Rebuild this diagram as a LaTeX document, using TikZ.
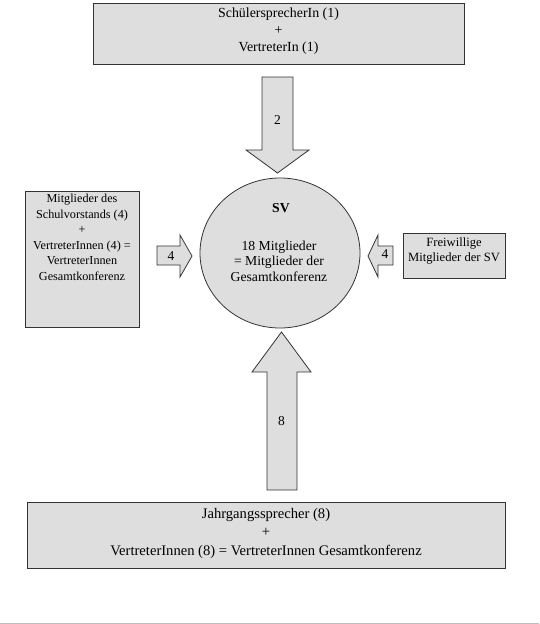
\documentclass[tikz,border=0pt]{standalone}
\usepackage{fontspec}
\setmainfont{Liberation Serif}
\begin{document}
\begin{tikzpicture}[x=1pt,y=-1pt,
  boxfill/.style={draw=black!80,line width=0.8pt,fill=black!13},
  txt/.style={align=center,inner sep=0pt,text=black},
  numtxt/.style={inner sep=0pt,font=\fontsize{13.5}{15}\selectfont}]
\useasboundingbox (0,0) rectangle (539,624);
% boxes
\draw[boxfill] (93,3) rectangle (464,64);
\node[txt,font=\fontsize{13.9}{17}\selectfont] (top) at (278.5,31) {SchülersprecherIn (1)\\+\\VertreterIn (1)};
\draw[boxfill] (25,191) rectangle (139,327);
\node[txt,font=\fontsize{12.2}{15.5}\selectfont,anchor=north] (left) at (82,194) {Mitglieder des\\Schulvorstands (4)\\+\\VertreterInnen (4) =\\VertreterInnen\\Gesamtkonferenz};
\draw[boxfill] (403,233) rectangle (505,278);
\node[txt,font=\fontsize{12.6}{15}\selectfont] (right) at (454,251) {Freiwillige\\Mitglieder der SV};
\draw[boxfill] (27,502) rectangle (505,568);
\node[txt,font=\fontsize{14.6}{18.5}\selectfont] (bottom) at (266,533) {Jahrgangssprecher (8)\\+\\VertreterInnen (8) = VertreterInnen Gesamtkonferenz};
% circle
\draw[boxfill] (280,253) ellipse (80 and 75);
\node[txt,font=\fontsize{13.7}{15}\selectfont\bfseries] (sv) at (281,208) {SV};
\node[txt,font=\fontsize{13.7}{15.5}\selectfont] (svtext) at (279,261) {18 Mitglieder\\= Mitglieder der\\Gesamtkonferenz};
% top arrow
\draw[boxfill,line join=miter] (262,77) -- (293,77) -- (293,150) -- (309,150) -- (277.5,173) -- (246,150) -- (262,150) -- cycle;
\node[numtxt] (n2) at (277.5,120) {2};
% bottom arrow
\draw[boxfill,line join=miter] (267,490) -- (297,490) -- (297,372) -- (311,372) -- (281.5,332) -- (252,372) -- (267,372) -- cycle;
\node[numtxt] (n8) at (281.5,421) {8};
% left arrow
\draw[boxfill,line join=miter] (157,246) -- (180,246) -- (180,235) -- (192,256) -- (180,277) -- (180,265) -- (157,265) -- cycle;
\node[numtxt] (n4l) at (171,256) {4};
% right arrow
\draw[boxfill,line join=miter] (393,246) -- (378,246) -- (378,235) -- (368,256) -- (378,277) -- (378,265) -- (393,265) -- cycle;
\node[numtxt] (n4r) at (385,254) {4};
% bottom page line
\draw[black!25,line width=1pt] (0,623) -- (539,623);
\end{tikzpicture}
\end{document}
